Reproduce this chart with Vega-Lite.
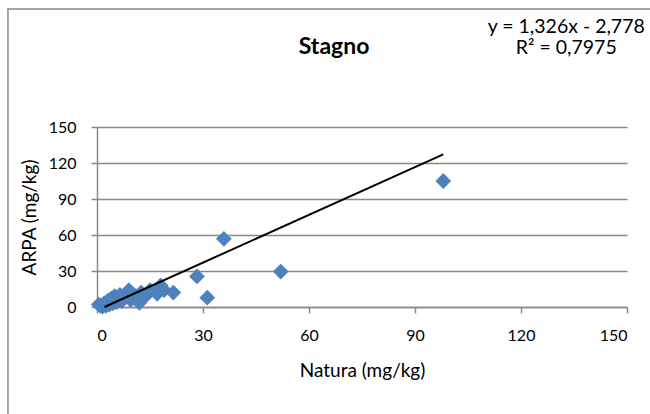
{
  "$schema": "https://vega.github.io/schema/vega-lite/v6.json",
  "autosize": "none",
  "width": 530,
  "height": 180,
  "padding": {"left": 97, "top": 127, "right": 23, "bottom": 107},
  "background": "white",
  "config": {
    "font": "Lato",
    "view": {"stroke": null},
    "axis": {
      "labelFont": "Lato",
      "titleFont": "Lato",
      "labelFontSize": 16,
      "titleFontSize": 19,
      "labelColor": "#000000",
      "titleColor": "#000000",
      "titleFontWeight": "normal",
      "domainColor": "#888888",
      "tickColor": "#888888",
      "gridColor": "#888888",
      "domainWidth": 1.5,
      "tickWidth": 1.5,
      "gridWidth": 1.5,
      "tickSize": 6
    }
  },
  "datasets": {
    "points": [
      {"natura": 0.5, "arpa": 2},
      {"natura": 1, "arpa": 1},
      {"natura": 1.5, "arpa": 0.3},
      {"natura": 2, "arpa": 3},
      {"natura": 2.5, "arpa": 1},
      {"natura": 3, "arpa": 5},
      {"natura": 3.5, "arpa": 2},
      {"natura": 4, "arpa": 7},
      {"natura": 4.5, "arpa": 3},
      {"natura": 5, "arpa": 9},
      {"natura": 5.5, "arpa": 4},
      {"natura": 6, "arpa": 6},
      {"natura": 6.5, "arpa": 10},
      {"natura": 7, "arpa": 5},
      {"natura": 8, "arpa": 8},
      {"natura": 9, "arpa": 14},
      {"natura": 9.5, "arpa": 6},
      {"natura": 10, "arpa": 11},
      {"natura": 11, "arpa": 9},
      {"natura": 12, "arpa": 3.5},
      {"natura": 12.5, "arpa": 12},
      {"natura": 14, "arpa": 10},
      {"natura": 15, "arpa": 14},
      {"natura": 17, "arpa": 11},
      {"natura": 18, "arpa": 18},
      {"natura": 19, "arpa": 14},
      {"natura": 21.6, "arpa": 12},
      {"natura": 28.3, "arpa": 25.5},
      {"natura": 31.2, "arpa": 7.8},
      {"natura": 35.9, "arpa": 56.8},
      {"natura": 52, "arpa": 29.5},
      {"natura": 98, "arpa": 105}
    ],
    "trend": [
      {"natura": 2.1, "arpa": 0.007},
      {"natura": 98, "arpa": 127.17}
    ],
    "one": [{}]
  },
  "layer": [
    {
      "data": {"name": "points"},
      "mark": {"type": "point", "shape": "diamond", "filled": true, "size": 250, "color": "#4F81BD", "opacity": 1},
      "encoding": {
        "x": {
          "field": "natura",
          "type": "quantitative",
          "scale": {"domain": [0, 150], "nice": false, "zero": false},
          "axis": {
            "title": "Natura (mg/kg)",
            "values": [0, 30, 60, 90, 120, 150],
            "tickCount": 12,
            "grid": false,
            "labelPadding": 14,
            "titlePadding": 18
          }
        },
        "y": {
          "field": "arpa",
          "type": "quantitative",
          "scale": {"domain": [0, 150], "nice": false, "zero": false},
          "axis": {
            "title": "ARPA (mg/kg)",
            "values": [0, 30, 60, 90, 120, 150],
            "tickCount": 12,
            "grid": true,
            "labelPadding": 15,
            "titlePadding": 9
          }
        }
      }
    },
    {
      "data": {"name": "trend"},
      "mark": {"type": "line", "color": "#000000", "strokeWidth": 2},
      "encoding": {
        "x": {"field": "natura", "type": "quantitative"},
        "y": {"field": "arpa", "type": "quantitative"}
      }
    },
    {
      "data": {"name": "one"},
      "mark": {"type": "rect", "fill": null, "stroke": "#888888", "strokeWidth": 1.5, "clip": false},
      "encoding": {
        "x": {"datum": -25.2, "type": "quantitative"},
        "x2": {"datum": 400},
        "y": {"datum": 248.3, "type": "quantitative"},
        "y2": {"datum": -400}
      }
    },
    {
      "data": {"name": "one"},
      "mark": {"type": "text", "text": "Stagno", "font": "Lato", "fontSize": 23, "fontWeight": "bold", "color": "#000000", "align": "center", "baseline": "middle", "clip": false},
      "encoding": {
        "x": {"datum": 67.1, "type": "quantitative"},
        "y": {"datum": 216.5, "type": "quantitative"}
      }
    },
    {
      "data": {"name": "one"},
      "mark": {"type": "text", "text": "y = 1,326x - 2,778", "font": "Lato", "fontSize": 19.5, "color": "#000000", "align": "center", "baseline": "middle", "clip": false},
      "encoding": {
        "x": {"datum": 132.8, "type": "quantitative"},
        "y": {"datum": 233.5, "type": "quantitative"}
      }
    },
    {
      "data": {"name": "one"},
      "mark": {"type": "text", "text": "R² = 0,7975", "font": "Lato", "fontSize": 19.5, "color": "#000000", "align": "center", "baseline": "middle", "clip": false},
      "encoding": {
        "x": {"datum": 132.8, "type": "quantitative"},
        "y": {"datum": 215.5, "type": "quantitative"}
      }
    }
  ]
}
